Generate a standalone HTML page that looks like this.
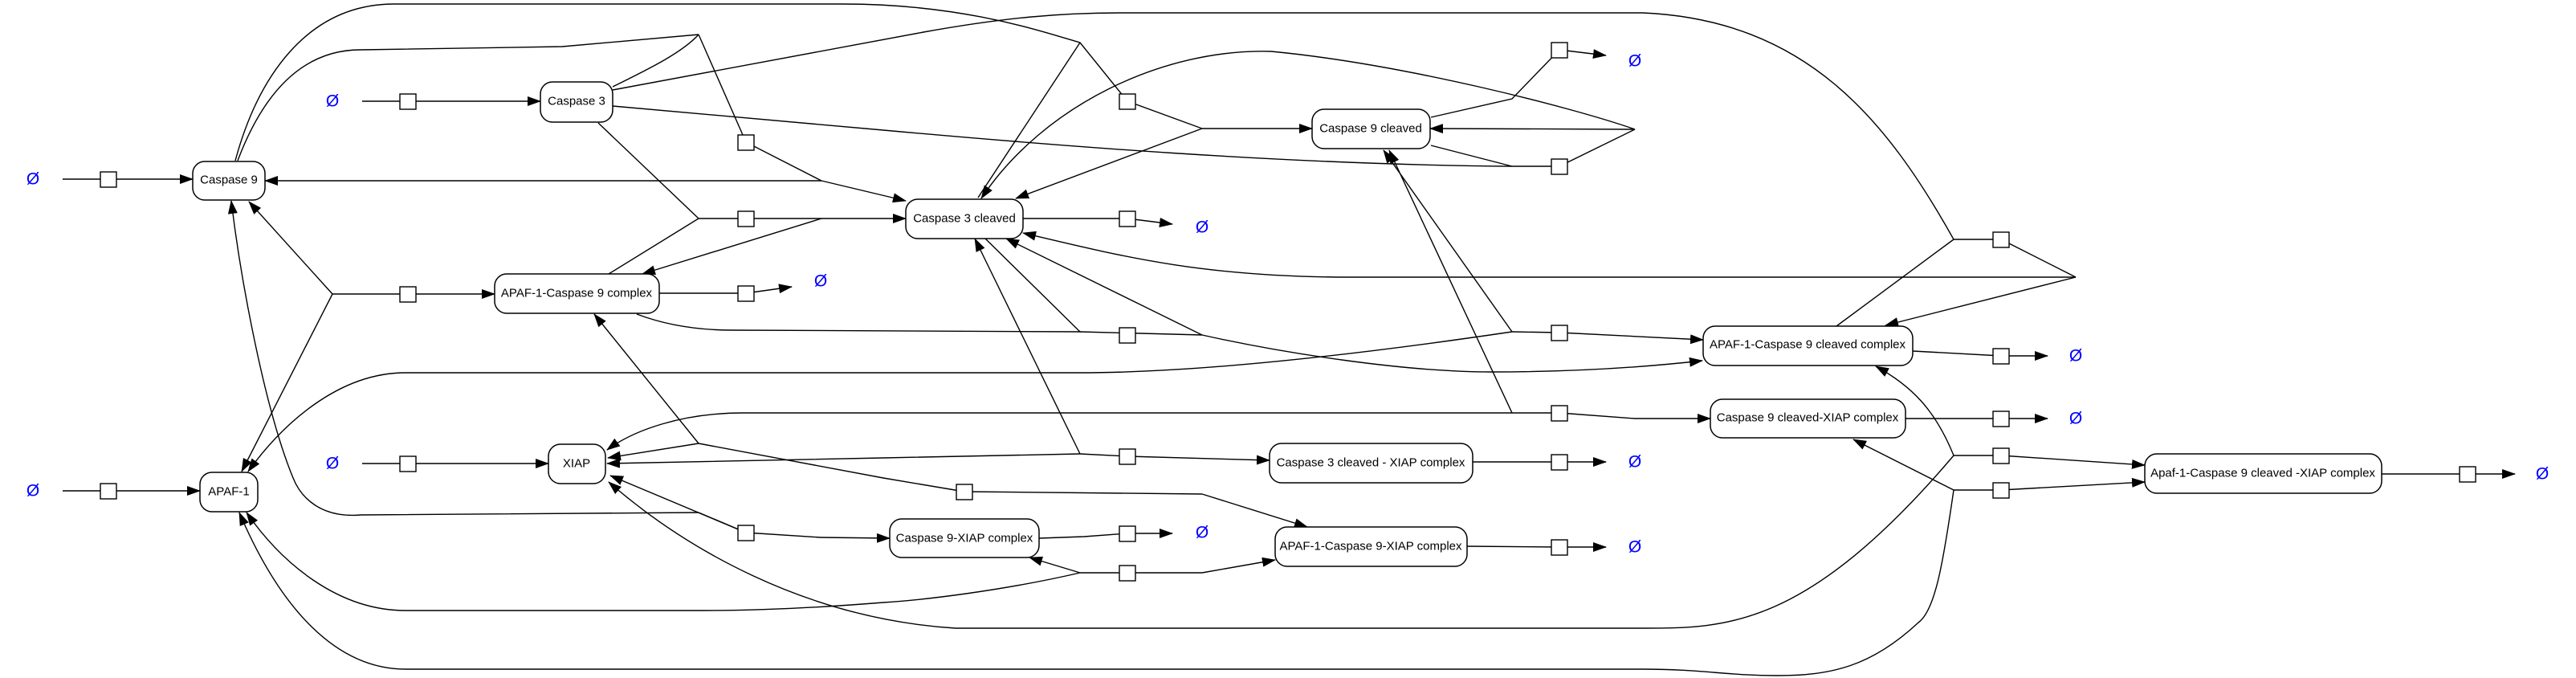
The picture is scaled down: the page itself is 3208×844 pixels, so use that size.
<!DOCTYPE html>
<html><head><meta charset="utf-8"><style>
html,body{margin:0;padding:0;background:#fff;}
svg{display:block;}
text{font-family:"Liberation Sans","DejaVu Sans",sans-serif;}
.n{fill:#fff;stroke:#000;stroke-width:1.5;}
.l{fill:none;stroke:#000;stroke-width:1.4;}
.a{fill:none;stroke:#000;stroke-width:1.4;marker-end:url(#ar);}
.t{font-size:15px;text-anchor:middle;dominant-baseline:central;}
.o{font-size:21px;fill:#0000ff;text-anchor:middle;dominant-baseline:central;}
.b{fill:#fff;stroke:#000;stroke-width:1.4;}
</style></head><body>
<svg width="3208" height="844" viewBox="0 0 3208 844" xmlns="http://www.w3.org/2000/svg">
<defs><marker id="ar" markerUnits="userSpaceOnUse" markerWidth="18" markerHeight="14" refX="16" refY="6" orient="auto"><path d="M0,0 L17,6 L0,12 z" fill="#000"/></marker></defs>

<!-- sources -->
<path class="a" d="M78,223 L240,223"/>
<path class="a" d="M78,611 L249,611"/>
<path class="a" d="M451,126 L673,126"/>
<path class="a" d="M451,577 L683,577"/>

<!-- complex formation -->
<path class="a" d="M414,366 L310,251"/>
<path class="a" d="M414,366 L301,587"/>
<path class="a" d="M414,366 L616,366"/>
<path class="l" d="M821,365 L929,365"/><path class="a" d="M929,365 L986,357"/>

<!-- caspase3 cleavage by complex -->
<path class="l" d="M745,153 L870,272 L758,341"/>
<path class="a" d="M870,272 L1128,272"/>
<path class="a" d="M1023,272 L800,341"/>

<!-- Caspase 9 + Caspase3 -->
<path class="l" d="M296,200 C330,110 380,62 449,62 L700,58 L870,43"/>
<path class="l" d="M763,108 C810,85 850,65 870,43"/>
<path class="l" d="M870,43 L929,177 L1023,225"/>
<path class="a" d="M1023,225 L1128,250"/>
<path class="a" d="M1023,225 L330,225"/>

<!-- Caspase 9 -> cleaved -->
<path class="l" d="M293,200 C320,100 380,5 491,5 L1050,5 C1200,5 1300,40 1345,53 L1404,126 L1497,160"/>
<path class="l" d="M1345,53 L1218,246"/>
<path class="a" d="M1497,160 L1634,160"/>
<path class="a" d="M1497,160 L1265,247"/>

<!-- Caspase 3 + cleaved complex -->
<path class="l" d="M763,112 L1150,40 C1250,22 1320,16 1394,16 L2046,16 C2250,25 2350,150 2433,298 L2492,298 L2585,345"/>
<path class="l" d="M2287,406 L2433,298"/>
<path class="a" d="M2585,345 L2348,405"/>
<path class="a" d="M2585,345 L1681,345 C1500,345 1400,320 1274,290"/>

<!-- Caspase 3 + Casp9 cleaved -->
<path class="l" d="M763,132 L1100,162 C1300,180 1600,205 1883,207 L1942,207 L2036,161"/>
<path class="l" d="M1782,181 L1883,207"/>
<path class="a" d="M2036,161 L1781,160"/>
<path class="a" d="M2036,161 C1962,135 1751,80 1583,64 C1450,60 1300,130 1222,247"/>

<!-- Casp9 cleaved degradation -->
<path class="l" d="M1782,146 L1883,123 L1942,62"/><path class="a" d="M1942,62 L2000,69"/>
<!-- Casp3 cleaved degradation -->
<path class="l" d="M1274,272 L1404,272"/><path class="a" d="M1404,272 L1460,279"/>

<!-- complex -> cleaved complex -->
<path class="l" d="M793,391 C830,405 870,411 912,411 L1345,413 L1227,297"/>
<path class="l" d="M1345,413 L1497,417"/>
<path class="a" d="M1497,417 L1253,297"/>
<path class="a" d="M1497,417 C1600,440 1750,463 1857,463 C1950,463 2040,458 2120,449"/>

<!-- APAF-1 + Casp9 cleaved -->
<path class="a" d="M1883,413 L1723,187"/>
<path class="a" d="M1883,413 C1700,440 1500,464 1345,464 L505,464 C420,464 350,530 309,587"/>
<path class="l" d="M1883,413 L1942,414"/><path class="a" d="M1942,414 L2121,423"/>

<!-- XIAP + Casp9 cleaved -->
<path class="a" d="M1883,514 L1730,187"/>
<path class="a" d="M1883,514 L926,514 C850,514 790,535 756,560"/>
<path class="l" d="M1883,514 L1942,514 L2036,521"/><path class="a" d="M2036,521 L2130,521"/>

<!-- XIAP + Casp3 cleaved -->
<path class="a" d="M1345,565 L1100,570 L756,577"/>
<path class="a" d="M1345,565 L1214,297"/>
<path class="l" d="M1345,565 L1404,568"/><path class="a" d="M1404,568 L1581,573"/>

<!-- XIAP + complex -->
<path class="a" d="M870,552 L740,391"/>
<path class="a" d="M870,552 L757,570"/>
<path class="l" d="M870,552 L1100,595 L1201,612 L1497,615"/>
<path class="a" d="M1497,615 L1628,656"/>

<!-- XIAP + Caspase 9 -->
<path class="a" d="M929,663 L760,592"/>
<path class="a" d="M870,638 L449,641 C400,645 375,620 365,595 C330,510 300,350 288,250"/>
<path class="l" d="M870,638 L929,663 L1022,669"/><path class="a" d="M1022,669 L1108,670"/>
<path class="l" d="M1294,670 L1350,668 L1404,664"/><path class="a" d="M1404,664 L1460,664"/>

<!-- APAF-1 + Casp9-XIAP -->
<path class="a" d="M1345,713 L1282,694"/>
<path class="a" d="M1345,713 C1250,735 1150,747 1100,750 C1000,758 930,760 877,760 L505,760 C420,760 350,700 307,638"/>
<path class="l" d="M1345,713 L1497,713"/><path class="a" d="M1497,713 L1588,697"/>

<!-- XIAP + cleaved complex -->
<path class="a" d="M2433,567 C2250,782 2150,782 2046,782 L1190,782 C1000,770 850,680 758,600"/>
<path class="a" d="M2433,567 C2410,510 2380,480 2336,456"/>
<path class="l" d="M2433,567 L2492,567"/><path class="a" d="M2492,567 L2671,579"/>

<!-- APAF-1 + Casp9 cleaved-XIAP -->
<path class="a" d="M2433,610 C2420,700 2410,760 2389,775 C2330,830 2280,841 2213,841 C2150,841 2120,833 2046,833 L505,833 C420,833 350,760 298,638"/>
<path class="a" d="M2433,610 L2308,547"/>
<path class="l" d="M2433,610 L2492,610"/><path class="a" d="M2492,610 L2671,600"/>

<!-- degradations right -->
<path class="l" d="M2382,437 L2492,443"/><path class="a" d="M2492,443 L2550,443"/>
<path class="l" d="M2373,521 L2492,521"/><path class="a" d="M2492,521 L2550,521"/>
<path class="l" d="M2966,590 L3073,590"/><path class="a" d="M3073,590 L3132,590"/>
<path class="l" d="M1827,680 L1942,681"/><path class="a" d="M1942,681 L2000,681"/>
<path class="l" d="M1834,575 L1942,575"/><path class="a" d="M1942,575 L2000,575"/>

<!-- boxes -->
<g class="b">
<rect x="125" y="214" width="20" height="19"/>
<rect x="125" y="602" width="20" height="19"/>
<rect x="498" y="117" width="20" height="19"/>
<rect x="498" y="568" width="20" height="19"/>
<rect x="498" y="357" width="20" height="19"/>
<rect x="919" y="356" width="20" height="19"/>
<rect x="919" y="168" width="20" height="19"/>
<rect x="919" y="263" width="20" height="19"/>
<rect x="919" y="654" width="20" height="19"/>
<rect x="1394" y="117" width="20" height="19"/>
<rect x="1394" y="263" width="20" height="19"/>
<rect x="1394" y="408" width="20" height="19"/>
<rect x="1394" y="559" width="20" height="19"/>
<rect x="1394" y="655" width="20" height="19"/>
<rect x="1394" y="704" width="20" height="19"/>
<rect x="1191" y="603" width="20" height="19"/>
<rect x="1932" y="53" width="20" height="19"/>
<rect x="1932" y="198" width="20" height="19"/>
<rect x="1932" y="405" width="20" height="19"/>
<rect x="1932" y="505" width="20" height="19"/>
<rect x="1932" y="566" width="20" height="19"/>
<rect x="1932" y="672" width="20" height="19"/>
<rect x="2482" y="289" width="20" height="19"/>
<rect x="2482" y="434" width="20" height="19"/>
<rect x="2482" y="512" width="20" height="19"/>
<rect x="2482" y="558" width="20" height="19"/>
<rect x="2482" y="601" width="20" height="19"/>
<rect x="3063" y="581" width="20" height="19"/>
</g>

<!-- nodes -->
<rect class="n" x="240" y="201" width="90" height="48" rx="15"/><text class="t" x="285" y="224">Caspase 9</text>
<rect class="n" x="249" y="588" width="72" height="49" rx="15"/><text class="t" x="285" y="612">APAF-1</text>
<rect class="n" x="673" y="102" width="90" height="50" rx="15"/><text class="t" x="718" y="126">Caspase 3</text>
<rect class="n" x="616" y="341" width="205" height="49" rx="15"/><text class="t" x="718" y="365">APAF-1-Caspase 9 complex</text>
<rect class="n" x="683" y="553" width="71" height="49" rx="15"/><text class="t" x="718" y="577">XIAP</text>
<rect class="n" x="1128" y="248" width="146" height="49" rx="15"/><text class="t" x="1201" y="272">Caspase 3 cleaved</text>
<rect class="n" x="1634" y="136" width="147" height="49" rx="15"/><text class="t" x="1707" y="160">Caspase 9 cleaved</text>
<rect class="n" x="1581" y="552" width="253" height="49" rx="15"/><text class="t" x="1707" y="576">Caspase 3 cleaved - XIAP complex</text>
<rect class="n" x="1588" y="656" width="239" height="49" rx="15"/><text class="t" x="1707" y="680">APAF-1-Caspase 9-XIAP complex</text>
<rect class="n" x="1108" y="646" width="186" height="48" rx="15"/><text class="t" x="1201" y="670">Caspase 9-XIAP complex</text>
<rect class="n" x="2121" y="406" width="261" height="49" rx="15"/><text class="t" x="2251" y="429">APAF-1-Caspase 9 cleaved complex</text>
<rect class="n" x="2130" y="497" width="243" height="48" rx="15"/><text class="t" x="2251" y="520">Caspase 9 cleaved-XIAP complex</text>
<rect class="n" x="2671" y="565" width="295" height="49" rx="15"/><text class="t" x="2818" y="589">Apaf-1-Caspase 9 cleaved -XIAP complex</text>

<!-- empty sets -->
<text class="o" x="41" y="223">Ø</text>
<text class="o" x="41" y="611">Ø</text>
<text class="o" x="414" y="126">Ø</text>
<text class="o" x="414" y="577">Ø</text>
<text class="o" x="1022" y="350">Ø</text>
<text class="o" x="1497" y="283">Ø</text>
<text class="o" x="1497" y="663">Ø</text>
<text class="o" x="2036" y="76">Ø</text>
<text class="o" x="2036" y="575">Ø</text>
<text class="o" x="2036" y="681">Ø</text>
<text class="o" x="2585" y="443">Ø</text>
<text class="o" x="2585" y="521">Ø</text>
<text class="o" x="3166" y="590">Ø</text>
</svg>
</body></html>
